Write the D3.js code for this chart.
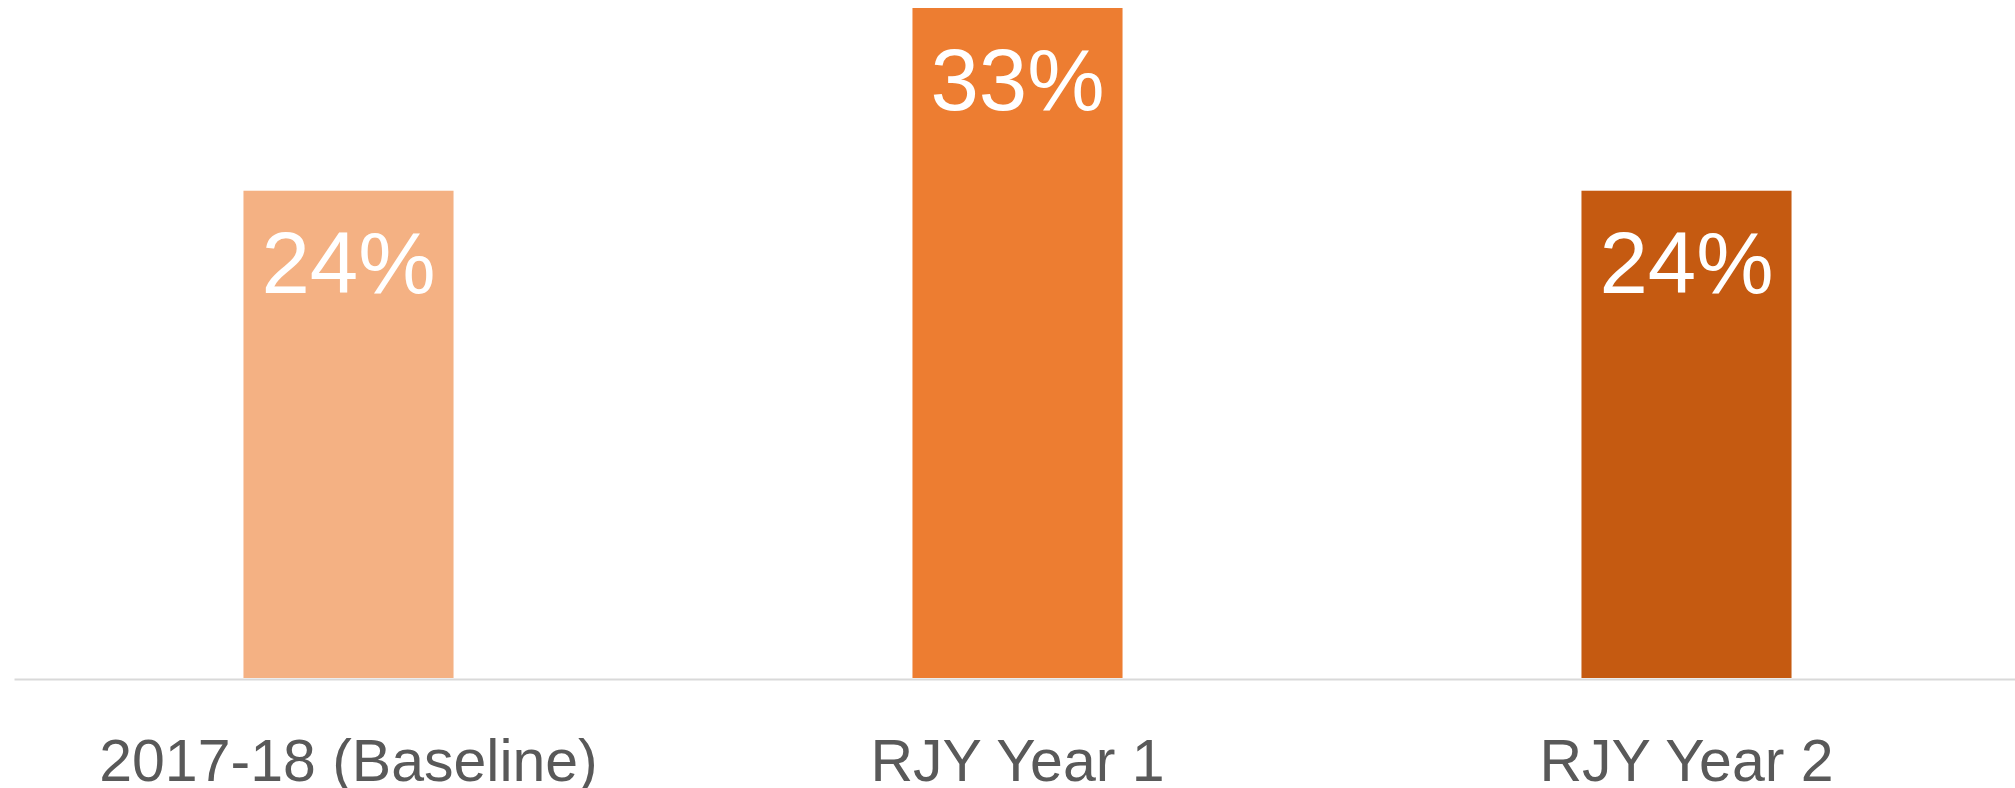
<!DOCTYPE html>
<html lang="en">
<head>
  <meta charset="UTF-8">
  <title>RJY bar chart</title>
  <script src="https://cdn.jsdelivr.net/npm/d3@7"></script>
  <style>
    body {
      margin: 0;
      padding: 0;
      background: #ffffff;
      overflow: hidden;
    }
  </style>
</head>
<body>
<div id="chart"></div>

<script>
  // Data
  const categories = ["2017-18 (Baseline)", "RJY Year 1", "RJY Year 2"];
  const values = [24, 33, 24];
  const barColors = ["#F4B183", "#ED7D31", "#C55A11"];

  const width = 2015;
  const height = 788;
  const margin = {top: 8, right: -6, bottom: 110, left: 14};

  const data = categories.map((c, i) => ({category: c, value: values[i], color: barColors[i]}));

  const x = d3.scaleBand()
          .domain(categories)
          .range([margin.left, width - margin.right])
          .paddingInner(0.686)
          .paddingOuter(0.343);

  const y = d3.scaleLinear()
          .domain([0, d3.max(values)])
          .range([height - margin.bottom, margin.top]);

  const svg = d3.select("#chart").append("svg")
          .attr("width", width)
          .attr("height", height)
          .style("display", "block");

  // Bars
  svg.append("g")
          .selectAll("rect")
          .data(data)
          .join("rect")
          .attr("x", d => x(d.category))
          .attr("y", d => y(d.value))
          .attr("width", x.bandwidth())
          .attr("height", d => y(0) - y(d.value))
          .attr("fill", d => d.color);

  // Category axis
  const axis = svg.append("g")
          .attr("transform", `translate(0,${y(0) + 1})`)
          .call(d3.axisBottom(x).tickSize(0).tickSizeOuter(0));

  axis.select(".domain")
          .attr("stroke", "#d9d9d9")
          .attr("stroke-width", 2);

  axis.selectAll(".tick text")
          .attr("dy", null)
          .attr("y", 102)
          .attr("fill", "#595959")
          .style("font-family", "'Liberation Sans', Arial, sans-serif")
          .style("font-size", "59px");

  // Value labels inside the bars
  svg.append("g")
          .attr("text-anchor", "middle")
          .style("font-family", "'Liberation Sans', Arial, sans-serif")
          .style("font-size", "87px")
          .selectAll("text")
          .data(data)
          .join("text")
          .attr("x", d => x(d.category) + x.bandwidth() / 2)
          .attr("y", d => y(d.value) + 102)
          .attr("fill", "#ffffff")
          .text(d => d.value + "%");
</script>
</body>
</html>
